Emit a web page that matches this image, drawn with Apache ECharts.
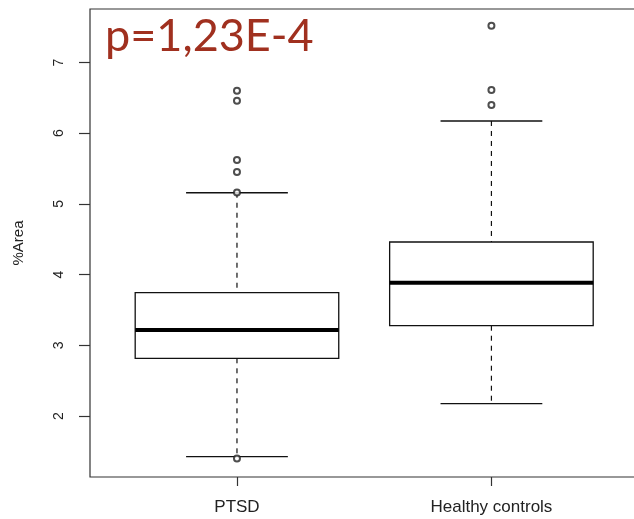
<!DOCTYPE html>
<html>
<head>
<meta charset="utf-8">
<script src="https://cdn.jsdelivr.net/npm/echarts@6/dist/echarts.min.js"></script>
<style>
  html, body { margin: 0; padding: 0; background: #fff; }
  #chart { width: 634px; height: 519px; }
</style>
</head>
<body>
<div id="chart"></div>
<script>
  // groups and their five-number summaries: [lower whisker, Q1, median, Q3, upper whisker]
  var categories = ['PTSD', 'Healthy controls'];
  var ptsdStats = [1.424, 2.816, 3.216, 3.744, 5.158];
  var healthyStats = [2.174, 3.277, 3.886, 4.461, 6.173];
  // outliers
  var ptsdOutliers = [6.60, 6.46, 5.62, 5.45, 5.16, 1.40];
  var healthyOutliers = [7.52, 6.61, 6.40];
  var yTicks = [2, 3, 4, 5, 6, 7];
  var xTicks = [1, 2];

  var boxData = [[1].concat(ptsdStats), [2].concat(healthyStats)];
  var outlierData = ptsdOutliers.map(function (v) { return [1, v]; })
    .concat(healthyOutliers.map(function (v) { return [2, v]; }));

  var ink = '#111';

  function renderBox(params, api) {
    var x = api.value(0);
    var lo = api.coord([x, api.value(1)]);
    var q1 = api.coord([x, api.value(2)]);
    var md = api.coord([x, api.value(3)]);
    var q3 = api.coord([x, api.value(4)]);
    var hi = api.coord([x, api.value(5)]);
    var hw = api.size([0.4, 0])[0];   // boxwex 0.8
    var sw = hw / 2;                   // staple half width
    var cx = lo[0];
    var dash = { stroke: ink, lineWidth: 1.2, lineDash: [5, 5] };
    var solid = { stroke: ink, lineWidth: 1.3 };
    return {
      type: 'group',
      children: [
        { type: 'line', shape: { x1: cx, y1: hi[1], x2: cx, y2: q3[1] }, style: dash },
        { type: 'line', shape: { x1: cx, y1: q1[1], x2: cx, y2: lo[1] }, style: dash },
        { type: 'line', shape: { x1: cx - sw, y1: hi[1], x2: cx + sw, y2: hi[1] }, style: solid },
        { type: 'line', shape: { x1: cx - sw, y1: lo[1], x2: cx + sw, y2: lo[1] }, style: solid },
        { type: 'rect', shape: { x: cx - hw, y: q3[1], width: 2 * hw, height: q1[1] - q3[1] },
          style: { fill: '#fff', stroke: ink, lineWidth: 1.3 } },
        { type: 'line', shape: { x1: cx - hw, y1: md[1], x2: cx + hw, y2: md[1] },
          style: { stroke: '#000', lineWidth: 4 } }
      ]
    };
  }

  var chart = echarts.init(document.getElementById('chart'));
  chart.setOption({
    animation: false,
    backgroundColor: '#fff',
    textStyle: { fontFamily: 'Liberation Sans' },
    title: {
      text: 'p=1,23E-4',
      left: 105,
      top: 14,
      padding: 0,
      textStyle: { fontFamily: 'Lato', fontSize: 45, fontWeight: 'normal', color: '#a0301f' }
    },
    grid: {
      left: 90, top: 9, width: 549, height: 468,
      outerBoundsMode: 'none',
      containLabel: false,
      show: true, borderColor: '#333', borderWidth: 1.2, backgroundColor: 'transparent'
    },
    xAxis: {
      type: 'value',
      min: 0.4224,
      max: 2.58,
      axisLine: { show: false },
      splitLine: { show: false },
      axisTick: { show: true, length: 9, customValues: xTicks, lineStyle: { color: '#333', width: 1.2 } },
      axisLabel: {
        customValues: xTicks,
        formatter: function (v) { return categories[Math.round(v) - 1]; },
        color: '#222', fontSize: 17, margin: 22
      }
    },
    yAxis: {
      type: 'value',
      min: 1.137,
      max: 7.757,
      name: '%Area',
      nameLocation: 'middle',
      nameRotate: 90,
      nameGap: 64,
      nameTextStyle: { color: '#222', fontSize: 15 },
      axisLine: { show: false },
      splitLine: { show: false },
      axisTick: { show: true, length: 11, customValues: yTicks, lineStyle: { color: '#333', width: 1.2 } },
      axisLabel: {
        customValues: yTicks,
        rotate: 90,
        color: '#222', fontSize: 14, margin: 24
      }
    },
    series: [
      {
        type: 'custom',
        renderItem: renderBox,
        encode: { x: 0, y: [1, 2, 3, 4, 5] },
        data: boxData,
        z: 2
      },
      {
        type: 'scatter',
        symbol: 'emptyCircle',
        symbolSize: 6,
        itemStyle: { color: '#222', borderColor: '#222', borderWidth: 1 },
        data: outlierData,
        z: 3
      }
    ]
  });
</script>
</body>
</html>
